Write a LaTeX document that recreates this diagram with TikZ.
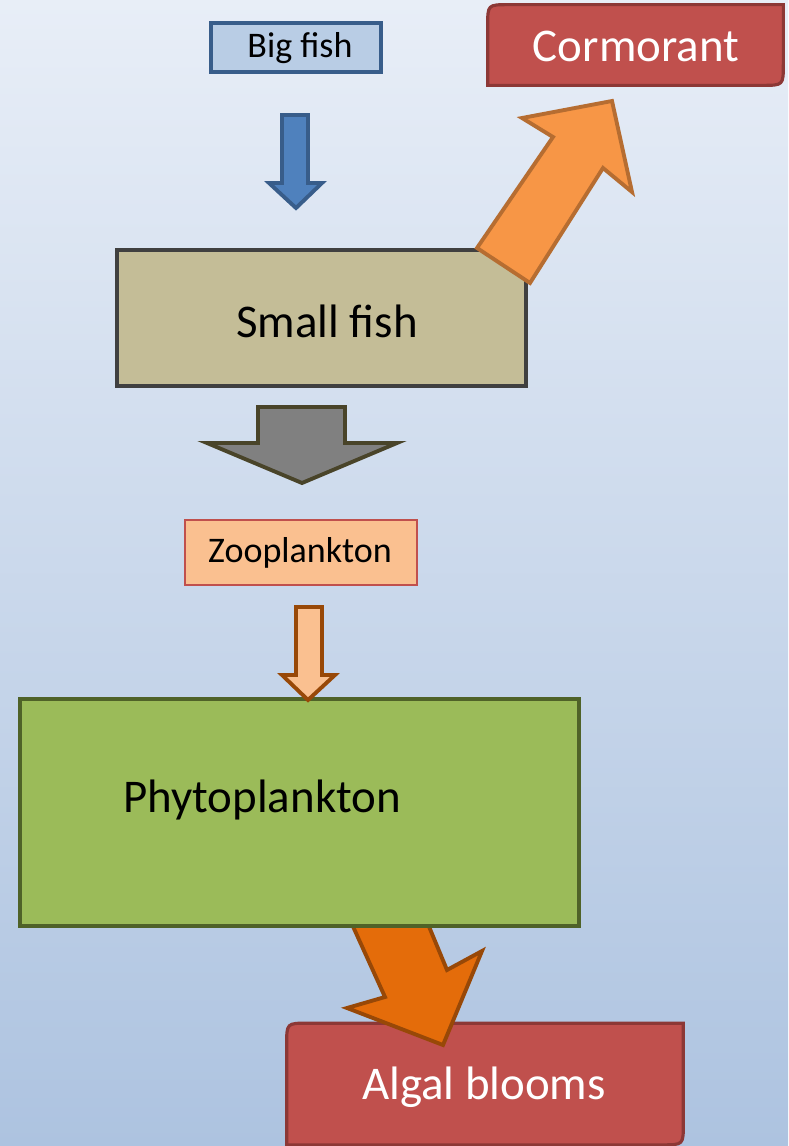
\documentclass[tikz,border=0pt]{standalone}
\usepackage{fontspec}
\setmainfont{Carlito}
\usetikzlibrary{positioning}
\definecolor{bgtop}{HTML}{E8EEF7}
\definecolor{bgbottom}{HTML}{ADC3E0}
\definecolor{redfill}{HTML}{C0504D}
\definecolor{redline}{HTML}{8C3836}
\definecolor{bluefill}{HTML}{4F81BD}
\definecolor{blueline}{HTML}{385D8A}
\definecolor{lightblue}{HTML}{B9CDE5}
\definecolor{orangefill}{HTML}{F79646}
\definecolor{orangeline}{HTML}{B66D31}
\definecolor{tanfill}{HTML}{C4BD97}
\definecolor{darkgray}{HTML}{404040}
\definecolor{grayline}{HTML}{494429}
\definecolor{peach}{HTML}{FAC090}
\definecolor{brownline}{HTML}{984807}
\definecolor{greenfill}{HTML}{9BBB59}
\definecolor{greenline}{HTML}{4F6228}
\definecolor{deeporange}{HTML}{E46C0A}

\begin{document}
\begin{tikzpicture}[x=0.02cm,y=-0.02cm,
    big/.style={font=\fontsize{26.7}{30}\selectfont},
    small/.style={font=\fontsize{20.5}{24}\selectfont},
    box/.style={draw,inner sep=0pt,line width=2.4pt},
    redbox/.style={fill=redfill,draw=redline,line width=1.8pt},
    blockarrow/.style={line width=2.2pt,line join=miter}]
                \shade[top color=bgtop,bottom color=bgbottom] (0,0) rectangle (788,1146);
                \useasboundingbox (0,0) rectangle (788,1146);
                % red boxes, rounded on two corners only
                \node[minimum width=5.9cm,minimum height=1.6cm] (cormorant) at (635.5,45) {};
                \draw[redbox] (cormorant.south west) -- ([yshift=-12pt]cormorant.north west) .. controls (cormorant.north west) .. ([xshift=12pt]cormorant.north west) -- (cormorant.north east) -- ([yshift=12pt]cormorant.south east) .. controls (cormorant.south east) .. ([xshift=-12pt]cormorant.south east) -- cycle;
                \node[big,text=white] (cormoranttext) at (636,46) {Cormorant};
                \node[minimum width=7.92cm,minimum height=2.42cm] (algal) at (485,1084) {};
                \draw[redbox] (algal.south west) -- ([yshift=-12pt]algal.north west) .. controls (algal.north west) .. ([xshift=12pt]algal.north west) -- (algal.north east) -- ([yshift=12pt]algal.south east) .. controls (algal.south east) .. ([xshift=-12pt]algal.south east) -- cycle;
                \node[big,text=white] (algaltext) at (484,1087) {Algal blooms};
                % arrow to the algal blooms, partly behind the green box
                \draw[blockarrow,fill=deeporange,draw=brownline] (341,900) -- (385,997) -- (347,1008) -- (443,1045) -- (482,951) -- (447,970) -- (418,900) -- cycle;
                \node[box,fill=greenfill,draw=greenline,minimum width=11.18cm,minimum height=4.54cm] (phyto) at (299.5,812.5) {};
                \node[big] (phytotext) at (262,800) {Phytoplankton};
                \node[box,fill=lightblue,draw=blueline,line width=2pt,minimum width=3.4cm,minimum height=0.98cm] (bigfish) at (296,47.5) {};
                \node[small] (bigfishtext) at (300,48) {Big fish};
                \node[box,fill=tanfill,draw=darkgray,minimum width=8.18cm,minimum height=2.72cm] (smallfish) at (321.5,318) {};
                \node[big] (smallfishtext) at (327,321) {Small fish};
                \node[box,fill=peach,draw=redfill,line width=0.8pt,minimum width=4.64cm,minimum height=1.3cm] (zoo) at (301,552.5) {};
                \node[small] (zootext) at (300,553) {Zooplankton};
                % the block arrows
                \draw[blockarrow,fill=bluefill,draw=blueline] (282,115) -- (308,115) -- (308,183) -- (322,183) -- (296,208) -- (269,183) -- (282,183) -- cycle;
                \draw[blockarrow,fill=gray,draw=grayline] (258,407) -- (345,407) -- (345,443) -- (397,443) -- (302,483) -- (207,443) -- (258,443) -- cycle;
                \draw[blockarrow,fill=peach,draw=brownline] (296,607) -- (322,607) -- (322,675) -- (335,675) -- (308,700) -- (282,675) -- (296,675) -- cycle;
                \draw[blockarrow,fill=orangefill,draw=orangeline] (477,248) -- (553,137) -- (522,118) -- (612,101) -- (632,192) -- (603,168) -- (530,283) -- cycle;
            \end{tikzpicture}
\end{document}
